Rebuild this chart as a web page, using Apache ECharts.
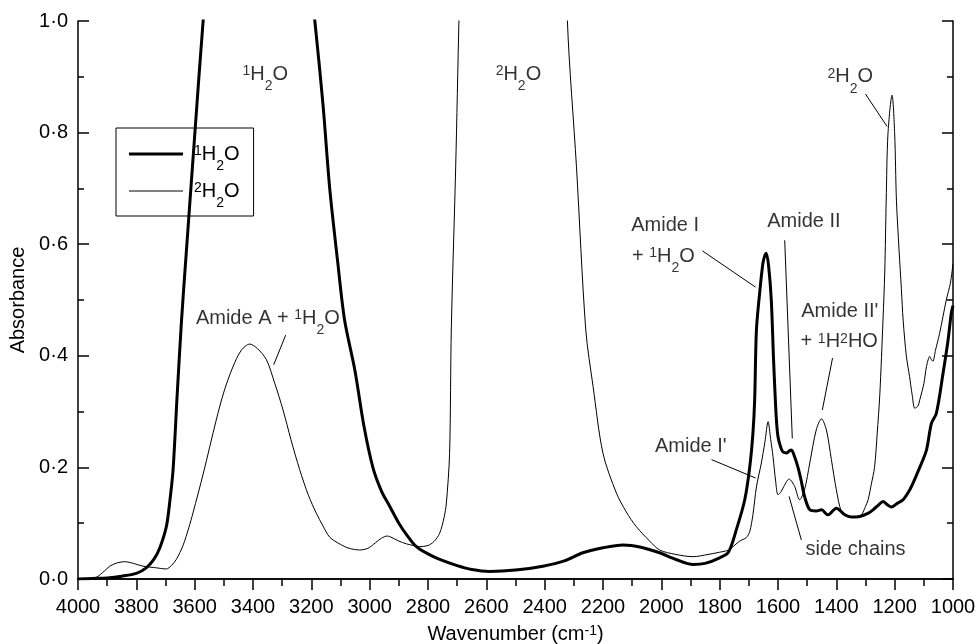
<!DOCTYPE html>
<html>
<head>
<meta charset="utf-8">
<script src="https://cdn.jsdelivr.net/npm/echarts@6/dist/echarts.min.js"></script>
<style>
html, body { margin: 0; padding: 0; background: #fff; }
#main { width: 977px; height: 644px; }
</style>
</head>
<body>
<div id="main"></div>
<script>
// ===== data =====
var waveH = [4000,3950,3900,3850,3800,3766,3740,3720,3697,3685,3674,3660,3645,3630,3617,3600,3585,3571,3550,3500,3400,3300,3230,3188,3160,3137,3110,3086,3051,3020,2989,2960,2931,2900,2870,2840,2800,2760,2700,2650,2589,2500,2406,2330,2269,2200,2131,2070,2006,1950,1891,1850,1800,1770,1743,1714,1697,1686,1680,1674,1663,1652,1645,1640,1632,1623,1615,1606,1600,1590,1583,1570,1560,1554,1543,1531,1520,1509,1491,1469,1451,1429,1400,1371,1349,1320,1290,1274,1255,1240,1225,1211,1190,1171,1150,1137,1114,1091,1074,1057,1034,1017,1006,1000];
var absH = [0,0.001,0.002,0.005,0.01,0.02,0.035,0.055,0.094,0.14,0.196,0.33,0.464,0.576,0.671,0.794,0.903,1.0,1.15,1.35,1.6,1.45,1.2,1.0,0.85,0.70,0.57,0.464,0.375,0.275,0.2,0.158,0.13,0.10,0.077,0.058,0.045,0.035,0.024,0.017,0.0136,0.016,0.023,0.033,0.047,0.056,0.061,0.057,0.047,0.035,0.026,0.028,0.038,0.048,0.088,0.142,0.2,0.261,0.321,0.446,0.512,0.565,0.58,0.584,0.56,0.50,0.39,0.29,0.255,0.235,0.228,0.226,0.23,0.231,0.219,0.199,0.175,0.148,0.124,0.122,0.124,0.115,0.127,0.115,0.111,0.112,0.118,0.124,0.133,0.139,0.133,0.129,0.136,0.142,0.158,0.172,0.20,0.231,0.279,0.297,0.369,0.428,0.476,0.49];

var waveD = [4000,3960,3937,3910,3891,3865,3840,3810,3777,3731,3697,3680,3663,3640,3620,3606,3570,3526,3500,3469,3440,3411,3385,3354,3325,3297,3270,3240,3210,3183,3160,3137,3100,3070,3034,3006,2980,2960,2940,2931,2900,2874,2850,2829,2800,2780,2760,2745,2737,2726,2720,2705,2694,2680,2600,2400,2330,2322,2291,2259,2234,2200,2154,2120,2086,2040,2006,1950,1891,1840,1800,1770,1731,1709,1697,1686,1674,1657,1645,1634,1625,1617,1608,1600,1590,1583,1562,1543,1526,1509,1491,1469,1451,1434,1417,1400,1383,1365,1349,1330,1314,1300,1291,1280,1269,1260,1251,1240,1234,1229,1223,1209,1200,1194,1185,1177,1171,1160,1149,1140,1131,1120,1114,1100,1091,1084,1080,1074,1069,1060,1046,1023,1009,1000];
var absD = [0,0,0.003,0.014,0.023,0.029,0.031,0.028,0.023,0.02,0.018,0.024,0.035,0.06,0.092,0.118,0.19,0.285,0.335,0.38,0.41,0.421,0.413,0.393,0.35,0.303,0.25,0.196,0.15,0.118,0.095,0.075,0.062,0.055,0.052,0.055,0.065,0.073,0.077,0.076,0.068,0.063,0.06,0.058,0.06,0.067,0.082,0.11,0.136,0.225,0.45,0.74,1.0,1.3,1.6,1.6,1.3,1.0,0.739,0.446,0.345,0.225,0.154,0.12,0.094,0.068,0.052,0.044,0.04,0.044,0.048,0.052,0.068,0.074,0.085,0.115,0.165,0.208,0.245,0.282,0.25,0.219,0.175,0.151,0.156,0.163,0.179,0.166,0.142,0.16,0.208,0.267,0.287,0.267,0.214,0.16,0.121,0.112,0.111,0.112,0.115,0.13,0.142,0.17,0.2,0.26,0.33,0.464,0.55,0.679,0.798,0.867,0.798,0.679,0.59,0.52,0.464,0.40,0.363,0.33,0.306,0.31,0.321,0.35,0.381,0.395,0.399,0.393,0.39,0.41,0.44,0.50,0.53,0.565];

var seriesNames = ['1H2O', '2H2O'];

// annotations (text + where it sits, in data units)
var noteText = ['{sup|1}H{sub|2}O', '{sup|2}H{sub|2}O', '{sup|2}H{sub|2}O', 'Amide A + {sup|1}H{sub|2}O',
    'Amide I', '+ {sup|1}H{sub|2}O', 'Amide II', "Amide II'", '+ {sup|1}H{sup|2}HO', "Amide I'", 'side chains'];
var noteWave = [3358, 2490, 1352, 3349, 1987, 1993, 1511, 1388, 1390, 1899, 1334];
var noteAbs = [0.905, 0.905, 0.9, 0.467, 0.634, 0.578, 0.640, 0.479, 0.425, 0.237, 0.052];

// leader lines
var leaderFrom = [[3288, 0.437], [1859, 0.588], [1577, 0.607], [1413, 0.396], [1300, 0.869], [1828, 0.214], [1520, 0.070]];
var leaderTo = [[3329, 0.384], [1677, 0.523], [1551, 0.252], [1448, 0.303], [1226, 0.811], [1677, 0.181], [1562, 0.148]];

function zip(a, b) {
    var out = [];
    for (var i = 0; i < a.length; i++) out.push([a[i], b[i]]);
    return out;
}

var FONT = 'Liberation Sans, Arial, sans-serif';
var richStyle = {
    sup: { fontSize: 14, fontFamily: FONT, color: '#000', padding: [0, 0, 6, 0] },
    sub: { fontSize: 14, fontFamily: FONT, color: '#000', padding: [24, 0, 0, 0] }
};

var notes = noteText.map(function (t, i) {
    return { name: t, value: [noteWave[i], noteAbs[i]] };
});
var leaders = leaderFrom.map(function (p, i) {
    return { coords: [p, leaderTo[i]] };
});

var chart = echarts.init(document.getElementById('main'), null, { renderer: 'canvas' });

var tickStyle = { color: '#000', width: 1.5 };
var option = {
    animation: false,
    backgroundColor: '#fff',
    textStyle: { fontFamily: FONT, color: '#000' },
    grid: { left: 78, right: 24, top: 21, bottom: 65, containLabel: false, outerBoundsMode: 'none' },
    legend: {
        orient: 'vertical',
        left: 116,
        top: 128,
        padding: [16, 14, 6, 13],
        itemWidth: 54,
        itemHeight: 14,
        itemGap: 8,
        borderColor: '#000',
        borderWidth: 1,
        borderRadius: 0,
        data: [
            { name: seriesNames[0], icon: 'path://M0,0h54v3h-54z' },
            { name: seriesNames[1], icon: 'path://M0,0h54v1h-54z' }
        ],
        formatter: function (n) { return '{sup|' + n.charAt(0) + '}H{sub|2}O'; },
        textStyle: { fontSize: 20, color: '#000', fontFamily: FONT, padding: [0, 0, 0, 6], rich: richStyle }
    },
    xAxis: [{
        type: 'value', min: 1000, max: 4000, interval: 200, inverse: true, position: 'bottom',
        name: 'Wavenumber (cm{sup|-1})', nameLocation: 'middle', nameGap: 45,
        nameTextStyle: { fontSize: 20, color: '#000', fontFamily: FONT, rich: richStyle },
        axisLine: { lineStyle: tickStyle },
        axisTick: { length: 11, lineStyle: tickStyle },
        minorTick: { show: true, splitNumber: 2, length: 7, lineStyle: tickStyle },
        axisLabel: {
            fontSize: 20, color: '#000', margin: 18, fontFamily: FONT,
            formatter: function (v) { return String(v); }
        },
        splitLine: { show: false }
    }, {
        type: 'value', min: 1000, max: 4000, interval: 200, inverse: true, position: 'top',
        axisLine: { lineStyle: tickStyle },
        axisTick: { inside: true, length: 11, lineStyle: tickStyle },
        minorTick: { show: true, splitNumber: 2, length: 6, lineStyle: tickStyle },
        axisLabel: { show: false },
        splitLine: { show: false }
    }],
    yAxis: [{
        type: 'value', min: 0, max: 1, interval: 0.2, position: 'left',
        name: 'Absorbance', nameLocation: 'middle', nameGap: 50,
        nameTextStyle: { fontSize: 20, color: '#000', fontFamily: FONT },
        axisLine: { lineStyle: tickStyle },
        axisTick: { inside: true, length: 11, lineStyle: tickStyle },
        minorTick: { show: true, splitNumber: 2, length: 6, lineStyle: tickStyle },
        axisLabel: {
            fontSize: 20, color: '#000', margin: 10, fontFamily: FONT,
            formatter: function (v) { return v.toFixed(1).replace('.', '\u00B7'); }
        },
        splitLine: { show: false }
    }, {
        type: 'value', min: 0, max: 1, interval: 0.2, position: 'right',
        axisLine: { lineStyle: tickStyle },
        axisTick: { inside: true, length: 11, lineStyle: tickStyle },
        minorTick: { show: true, splitNumber: 2, length: 6, lineStyle: tickStyle },
        axisLabel: { show: false },
        splitLine: { show: false }
    }],
    series: [
        {
            name: '1H2O', type: 'line', data: zip(waveH, absH),
            symbol: 'none', smooth: 0.3, clip: true,
            lineStyle: { color: '#000', width: 3 }, itemStyle: { color: '#000' }
        },
        {
            name: '2H2O', type: 'line', data: zip(waveD, absD),
            symbol: 'none', smooth: 0.3, clip: true,
            lineStyle: { color: '#000', width: 1 }, itemStyle: { color: '#000' }
        },
        {
            name: 'leaders', type: 'lines', coordinateSystem: 'cartesian2d', silent: true,
            data: leaders,
            lineStyle: { color: '#000', width: 1, opacity: 1, curveness: 0 }
        },
        {
            name: 'notes', type: 'scatter', silent: true, symbolSize: 0,
            data: notes,
            label: {
                show: true, position: [0, 0], align: 'center', verticalAlign: 'middle',
                fontSize: 20, color: '#000', fontFamily: FONT,
                formatter: function (p) { return p.name; },
                rich: richStyle
            }
        }
    ]
};
chart.setOption(option);
</script>
</body>
</html>
